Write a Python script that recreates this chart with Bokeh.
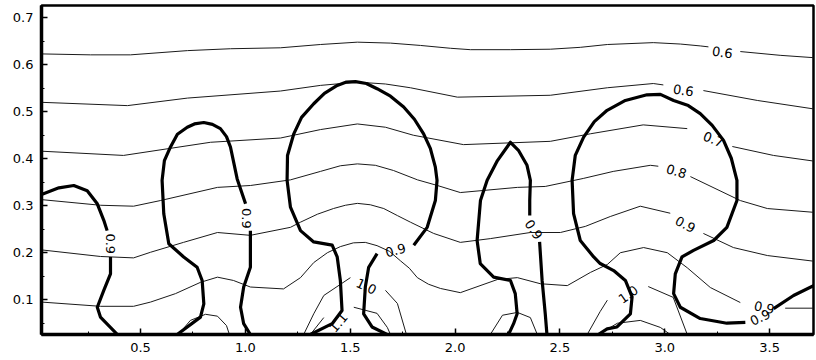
from bokeh.plotting import figure
from bokeh.models import FixedTicker
from bokeh.core.properties import value
from bokeh.embed import file_html
from bokeh.resources import INLINE

nan = float("nan")

# ---- axes ----
x_ticks = [0.5, 1.0, 1.5, 2.0, 2.5, 3.0, 3.5]
x_tick_labels = ["0.5", "1.0", "1.5", "2.0", "2.5", "3.0", "3.5"]
x_minor = [0.25, 0.75, 1.25, 1.75, 2.25, 2.75, 3.25]
y_ticks = [0.1, 0.2, 0.3, 0.4, 0.5, 0.6, 0.7]
y_tick_labels = ["0.1", "0.2", "0.3", "0.4", "0.5", "0.6", "0.7"]
y_minor = [0.05, 0.15, 0.25, 0.35, 0.45, 0.55, 0.65]
x_lo, x_hi = 0.028, 3.709
y_lo, y_hi = 0.026, 0.726

# ---- thin contour lines (nan = gap where a label sits) ----
thin_a_x = [0.028, 0.262, 0.452, 0.724, 0.929, 1.167, 1.358, 1.534, 1.692, 1.835, 1.978, 2.073, 2.264, 2.454, 2.597, 2.726, 2.945, 3.074, 3.169, 3.208, nan, 3.360, 3.550, 3.709]
thin_a_y = [0.623, 0.621, 0.621, 0.630, 0.634, 0.636, 0.643, 0.648, 0.646, 0.641, 0.635, 0.632, 0.632, 0.633, 0.637, 0.643, 0.647, 0.644, 0.640, 0.638, nan, 0.628, 0.620, 0.615]

thin_b_x = [0.028, 0.438, 0.724, 1.167, 1.358, 1.534, 1.668, 1.787, 2.011, 2.454, 2.726, 2.945, 2.993, nan, 3.184, 3.441, 3.709]
thin_b_y = [0.520, 0.513, 0.529, 0.544, 0.556, 0.563, 0.559, 0.551, 0.531, 0.535, 0.551, 0.560, 0.557, nan, 0.545, 0.524, 0.506]

thin_c_x = [0.028, 0.419, 0.834, 1.167, 1.358, 1.534, 1.668, 1.801, 2.040, 2.454, 2.645, 2.897, 3.107, nan, 3.322, 3.518, 3.709]
thin_c_y = [0.416, 0.407, 0.435, 0.444, 0.462, 0.474, 0.467, 0.450, 0.430, 0.437, 0.453, 0.472, 0.464, nan, 0.426, 0.407, 0.395]

thin_d_x = [0.028, 0.309, 0.467, 0.595, 0.867, 1.024, 1.215, 1.358, 1.453, 1.534, 1.620, 1.706, 1.821, 1.916, 2.025, 2.297, 2.430, 2.611, 2.754, 2.931, 2.969, nan, 3.122, 3.360, 3.489, 3.709]
thin_d_y = [0.313, 0.301, 0.299, 0.311, 0.339, 0.343, 0.355, 0.373, 0.385, 0.389, 0.386, 0.375, 0.355, 0.343, 0.328, 0.339, 0.341, 0.358, 0.373, 0.386, 0.384, nan, 0.362, 0.311, 0.294, 0.286]

thin_e_x = [0.028, 0.309, 0.467, 0.548, 0.705, 0.867, 1.024, 1.215, 1.263, 1.344, 1.420, 1.477, 1.534, 1.596, 1.660, 1.725, 1.787, 1.898, 2.025, 2.168, 2.359, 2.502, 2.621, 2.740, 2.883, 3.026, nan, 3.184, 3.327, 3.489, 3.709]
thin_e_y = [0.206, 0.192, 0.189, 0.201, 0.222, 0.243, 0.237, 0.254, 0.265, 0.282, 0.294, 0.301, 0.305, 0.302, 0.294, 0.279, 0.265, 0.241, 0.222, 0.230, 0.243, 0.243, 0.256, 0.277, 0.299, 0.284, nan, 0.241, 0.211, 0.194, 0.182]

thin_f_x = [0.028, 0.309, 0.467, 0.548, 0.667, 0.786, 0.867, 0.943, 1.024, 1.182, 1.263, 1.326, 1.391, 1.453, 1.515, 1.572, 1.628, 1.687, 1.739, 1.782, 1.820, 1.873, 1.930, 2.025, 2.202, 2.297, 2.407, 2.535, 2.645, 2.726, 2.788, 2.899, 3.012, 3.107, 3.217, 3.360, nan, 3.574, 3.709]
thin_f_y = [0.095, 0.086, 0.086, 0.095, 0.113, 0.137, 0.148, 0.141, 0.127, 0.123, 0.147, 0.179, 0.200, 0.213, 0.221, 0.222, 0.215, 0.203, 0.183, 0.167, 0.147, 0.133, 0.124, 0.115, 0.143, 0.147, 0.134, 0.130, 0.158, 0.175, 0.200, 0.211, 0.200, 0.168, 0.126, 0.094, nan, 0.082, 0.082]

thin_g_x = [1.278, 1.326, 1.374, 1.501, nan, 1.668, 1.725, 1.768]
thin_g_y = [0.026, 0.070, 0.109, 0.147, nan, 0.120, 0.092, 0.026]

thin_h_x = [1.310, 1.374, nan, 1.517, 1.628, 1.677, 1.692]
thin_h_y = [0.026, 0.062, nan, 0.084, 0.071, 0.041, 0.026]

thin_i_x = [0.681, 0.738, 0.810, 0.867, 0.910, 0.924]
thin_i_y = [0.026, 0.056, 0.069, 0.065, 0.045, 0.026]

thin_j_x = [2.168, 2.226, 2.297, 2.359, 2.392]
thin_j_y = [0.026, 0.067, 0.073, 0.062, 0.026]

thin_k_x = [2.630, 2.692, 2.726, nan, 2.921, 3.040, 3.107]
thin_k_y = [0.026, 0.075, 0.099, nan, 0.128, 0.105, 0.026]

thin_l_x = [2.683, 2.774, 2.883, 2.979, 3.026]
thin_l_y = [0.026, 0.050, 0.056, 0.041, 0.026]

# ---- thick contour lines (level 0.9 of the overlaid field) ----
thick_1_x = [0.028, 0.111, 0.182, 0.246, 0.294, 0.325, 0.341, nan, 0.357, 0.357, 0.325, 0.294, 0.309, 0.390]
thick_1_y = [0.324, 0.338, 0.343, 0.332, 0.304, 0.269, 0.247, nan, 0.191, 0.155, 0.120, 0.084, 0.063, 0.026]

thick_2_x = [0.675, 0.786, 0.802, 0.794, 0.770, 0.706, 0.635, 0.611, 0.603, 0.614, 0.643, 0.676, 0.723, 0.757, 0.802, 0.843, 0.881, 0.910, 0.929, 0.961, 1.001, nan, 1.024, 1.024, 0.992, 0.977, 0.992, 1.024]
thick_2_y = [0.026, 0.063, 0.091, 0.141, 0.169, 0.191, 0.219, 0.283, 0.354, 0.396, 0.425, 0.452, 0.467, 0.474, 0.477, 0.473, 0.464, 0.447, 0.425, 0.357, 0.304, nan, 0.247, 0.169, 0.127, 0.084, 0.049, 0.026]

thick_3_x = [1.310, 1.414, 1.461, 1.453, 1.438, 1.414, 1.326, 1.263, 1.215, 1.199, 1.201, 1.231, 1.268, 1.326, 1.377, 1.438, 1.482, 1.525, 1.577, 1.628, 1.692, 1.755, 1.806, 1.850, 1.882, 1.906, 1.914, 1.906, 1.867, 1.803, nan, 1.628, 1.588, 1.572, 1.564, 1.604, 1.676]
thick_3_y = [0.026, 0.049, 0.077, 0.141, 0.191, 0.216, 0.223, 0.247, 0.297, 0.354, 0.407, 0.453, 0.488, 0.517, 0.539, 0.556, 0.563, 0.564, 0.560, 0.549, 0.533, 0.510, 0.484, 0.453, 0.422, 0.382, 0.354, 0.311, 0.254, 0.216, nan, 0.198, 0.169, 0.127, 0.070, 0.042, 0.026]

thick_4_x = [2.255, 2.279, 2.296, 2.287, 2.264, 2.184, 2.120, 2.105, 2.121, 2.153, 2.202, 2.264, 2.302, 2.343, 2.359, 2.356, 2.356, nan, 2.403, 2.415, 2.430, 2.438]
thick_4_y = [0.026, 0.049, 0.070, 0.113, 0.141, 0.148, 0.177, 0.226, 0.311, 0.354, 0.396, 0.435, 0.418, 0.386, 0.354, 0.311, 0.279, nan, 0.223, 0.141, 0.070, 0.026]

thick_5_x = [2.683, 2.725, 2.772, 2.836, 2.844, 2.812, 2.756, 2.692, 2.661, 2.597, 2.565, 2.558, 2.573, 2.613, 2.664, 2.725, 2.812, 2.915, 2.979, 3.042, 3.112, 3.169, 3.226, 3.280, 3.317, 3.344, 3.344, 3.296, 3.233, 3.137, 3.082, 3.050, 3.042, 3.074, 3.169, 3.296, 3.384, nan, 3.519, 3.614, 3.709]
thick_5_y = [0.026, 0.038, 0.042, 0.070, 0.106, 0.141, 0.162, 0.177, 0.191, 0.226, 0.283, 0.354, 0.407, 0.446, 0.479, 0.503, 0.524, 0.536, 0.537, 0.524, 0.513, 0.496, 0.471, 0.439, 0.401, 0.354, 0.311, 0.254, 0.226, 0.205, 0.191, 0.155, 0.113, 0.084, 0.060, 0.050, 0.052, nan, 0.081, 0.109, 0.130]

# ---- contour labels ----
label_text = ["0.6", "0.6", "0.7", "0.8", "0.9", "0.9", "1.0", "1.1", "1.0", "0.9", "0.9", "0.9", "0.9", "0.9"]
label_x = [3.274, 3.088, 3.231, 3.055, 3.098, 3.474, 1.577, 1.444, 2.826, 0.357, 1.005, 1.716, 2.374, 3.455]
label_y = [0.626, 0.545, 0.441, 0.373, 0.260, 0.083, 0.128, 0.051, 0.111, 0.219, 0.273, 0.205, 0.249, 0.062]
label_angle = [-8, -8, -22, -17, -28, -12, -25, 50, 35, -90, -90, 15, -55, 25]

thin_lines = [(thin_a_x, thin_a_y), (thin_b_x, thin_b_y), (thin_c_x, thin_c_y), (thin_d_x, thin_d_y),
              (thin_e_x, thin_e_y), (thin_f_x, thin_f_y), (thin_g_x, thin_g_y), (thin_h_x, thin_h_y),
              (thin_i_x, thin_i_y), (thin_j_x, thin_j_y), (thin_k_x, thin_k_y), (thin_l_x, thin_l_y)]
thick_lines = [(thick_1_x, thick_1_y), (thick_2_x, thick_2_y), (thick_3_x, thick_3_y),
               (thick_4_x, thick_4_y), (thick_5_x, thick_5_y)]

p = figure(width=816, height=355, x_range=(x_lo, x_hi), y_range=(y_lo, y_hi),
           output_backend="svg", toolbar_location=None)
p.frame_width = 772
p.frame_height = 329
p.min_border_left = 41
p.min_border_right = 3
p.min_border_top = 5
p.min_border_bottom = 0
p.background_fill_color = "white"
p.border_fill_color = "white"
p.outline_line_color = "black"
p.outline_line_width = 2.5
p.grid.visible = False

for xs, ys in thin_lines:
    p.line(xs, ys, line_color="#1a1a1a", line_width=1, line_join="round")
for xs, ys in thick_lines:
    p.line(xs, ys, line_color="black", line_width=3.2, line_join="round")

p.text(x=label_x, y=label_y, text=label_text, angle=label_angle, angle_units="deg",
       text_align="center", text_baseline="middle", text_color="black",
       text_font=value("DejaVu Sans"), text_font_size="13px")

p.xaxis.ticker = FixedTicker(ticks=x_ticks, minor_ticks=x_minor)
p.yaxis.ticker = FixedTicker(ticks=y_ticks, minor_ticks=y_minor)
p.xaxis.major_label_overrides = {t: s for t, s in zip(x_ticks, x_tick_labels)}
p.yaxis.major_label_overrides = {t: s for t, s in zip(y_ticks, y_tick_labels)}

for ax in (p.xaxis[0], p.yaxis[0]):
    ax.axis_line_color = "black"
    ax.axis_line_width = 3.5
    ax.major_tick_in = 6
    ax.major_tick_out = 0
    ax.minor_tick_in = 3
    ax.minor_tick_out = 0
    ax.major_tick_line_color = "black"
    ax.minor_tick_line_color = "black"
    ax.major_tick_line_width = 1.5
    ax.minor_tick_line_width = 1
    ax.major_label_text_font = "DejaVu Sans"
    ax.major_label_text_font_size = "13px"
    ax.major_label_text_color = "black"
p.xaxis.major_label_standoff = 8
p.yaxis.major_label_standoff = 8

open("out.html", "w").write(file_html(p, INLINE))
